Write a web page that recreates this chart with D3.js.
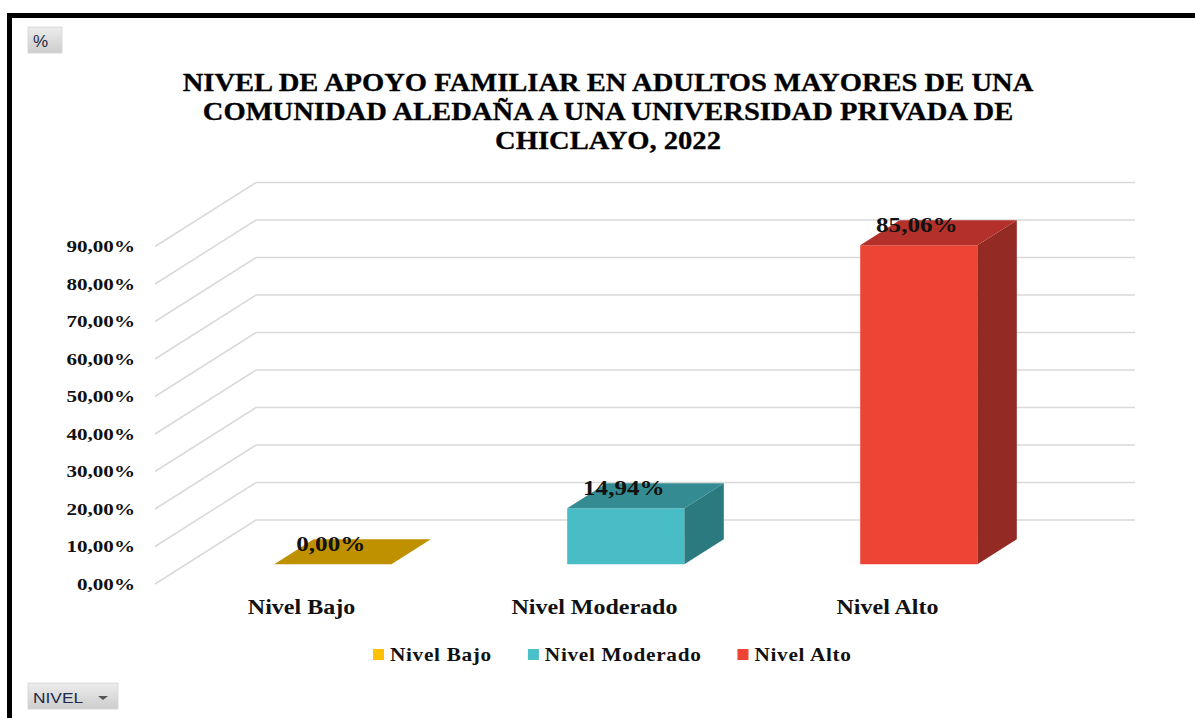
<!DOCTYPE html>
<html>
<head>
<meta charset="utf-8">
<script src="https://cdn.jsdelivr.net/npm/d3@7/dist/d3.min.js"></script>
<style>
  html, body { margin: 0; padding: 0; background: #ffffff; }
  svg { display: block; }
</style>
</head>
<body>
<svg id="chart" width="1195" height="718"></svg>
<script>
// ---- data ----
const categories = ["Nivel Bajo", "Nivel Moderado", "Nivel Alto"];
const values = [0.00, 14.94, 85.06];
const valueLabels = ["0,00%", "14,94%", "85,06%"];
const yTicks = [0, 10, 20, 30, 40, 50, 60, 70, 80, 90];
const yTickLabels = ["0,00%", "10,00%", "20,00%", "30,00%", "40,00%", "50,00%", "60,00%", "70,00%", "80,00%", "90,00%"];
const titleLines = ["NIVEL DE APOYO FAMILIAR EN ADULTOS MAYORES DE UNA", "COMUNIDAD ALEDAÑA A UNA UNIVERSIDAD PRIVADA DE", "CHICLAYO, 2022"];
const legendColors = ["#FFC000", "#4BC0C8", "#EE4433"];
const frontColors = ["#FFC000", "#49BDC6", "#EC4535"];
const topColors = ["#BF9000", "#358B92", "#B4302A"];
const sideColors = ["#8F6C00", "#2B7A7F", "#932A23"];

// ---- layout ----
const svg = d3.select("#chart");
const serif = "'Liberation Serif', 'Times New Roman', serif";
const sans = "'Liberation Sans', Arial, sans-serif";

function stretch(sel, k) {
  sel.each(function () {
    const w = this.getComputedTextLength();
    d3.select(this).attr("textLength", w * k).attr("lengthAdjust", "spacingAndGlyphs");
  });
}

// frame
svg.append("rect").attr("x", 0).attr("y", 0).attr("width", 1195).attr("height", 718).attr("fill", "#fff");
svg.append("rect").attr("x", 7).attr("y", 13).attr("width", 1188).attr("height", 5).attr("fill", "#000");
svg.append("rect").attr("x", 7).attr("y", 13).attr("width", 5).attr("height", 705).attr("fill", "#000");

// button gradients
const defs = svg.append("defs");
const grad = defs.append("linearGradient").attr("id", "btn").attr("x1", 0).attr("y1", 0).attr("x2", 0).attr("y2", 1);
grad.append("stop").attr("offset", "0%").attr("stop-color", "#ececec");
grad.append("stop").attr("offset", "100%").attr("stop-color", "#cdcdcd");

// "%" button
svg.append("rect").attr("x", 28).attr("y", 27).attr("width", 34).attr("height", 26)
  .attr("fill", "url(#btn)").attr("stroke", "#d4d4d4").attr("stroke-width", 0.8);
svg.append("text").attr("x", 33).attr("y", 46.5).attr("font-family", sans).attr("font-size", 17)
  .attr("fill", "#1E2A48").text("%");

// "NIVEL" button
svg.append("rect").attr("x", 28).attr("y", 683).attr("width", 90).attr("height", 26)
  .attr("fill", "url(#btn)").attr("stroke", "#d4d4d4").attr("stroke-width", 0.8);
const nivelT = svg.append("text").attr("x", 33).attr("y", 703).attr("font-family", sans).attr("font-size", 15.5)
  .attr("fill", "#1E2A48").text("NIVEL");
stretch(nivelT, 1.12);
svg.append("path").attr("d", "M98,696 L108,696 L103,700 Z").attr("fill", "#555");

// title
const title = svg.append("g");
title.selectAll("text").data(titleLines).join("text")
  .attr("x", 608).attr("y", (d, i) => 91 + i * 29)
  .attr("text-anchor", "middle").attr("font-family", serif).attr("font-weight", "bold")
  .attr("font-size", 25.5).attr("fill", "#000").attr("stroke", "#000").attr("stroke-width", 0.3)
  .text(d => d)
  .call(stretch, 1.12);

// 3D projection
const DX = 101, DY = 64;
const x = d3.scaleBand().domain(categories).range([155, 1034]).paddingInner(0).paddingOuter(0);
const y = d3.scaleLinear().domain([0, 90]).range([584, 246.5]);
const proj = (h, v, d) => [h + d * DX, y(v) - d * DY];
const line = d3.line();

// gridlines (side wall + back wall)
const [h0, h1] = x.range();
svg.append("g").selectAll("path").data(yTicks).join("path")
  .attr("d", v => line([proj(h0, v, 0), proj(h0, v, 1), proj(h1, v, 1)]))
  .attr("fill", "none").attr("stroke", "#D9D9D9").attr("stroke-width", 1.5);

// y-axis labels
svg.append("g").selectAll("text").data(yTicks).join("text")
  .attr("x", 135).attr("y", v => y(v)).attr("dy", "0.35em")
  .attr("text-anchor", "end").attr("font-family", serif).attr("font-weight", "bold")
  .attr("font-size", 17).attr("fill", "#111").text((v, i) => yTickLabels[i])
  .call(stretch, 1.24);

// bars
const BW = 0.4, D1 = 0.31, D2 = 0.70;
const bars = svg.append("g");
categories.forEach((c, i) => {
  const cx = x(c) + x.bandwidth() / 2;
  const a = cx - x.bandwidth() * BW / 2, b = cx + x.bandwidth() * BW / 2;
  const v = values[i];
  const g = bars.append("g");
  if (v > 0) {
    g.append("path").attr("d", line([proj(a, 0, D1), proj(b, 0, D1), proj(b, v, D1), proj(a, v, D1)]) + "Z")
      .attr("fill", frontColors[i]);
    g.append("path").attr("d", line([proj(b, 0, D1), proj(b, 0, D2), proj(b, v, D2), proj(b, v, D1)]) + "Z")
      .attr("fill", sideColors[i]);
  }
  g.append("path").attr("d", line([proj(a, v, D1), proj(b, v, D1), proj(b, v, D2), proj(a, v, D2)]) + "Z")
    .attr("fill", topColors[i]);
});

// data labels
svg.append("g").selectAll("text").data(categories).join("text")
  .attr("x", c => x(c) + x.bandwidth() / 2 + D1 * DX - 2)
  .attr("y", (c, i) => proj(0, values[i], (D1 + D2) / 2)[1] - 1)
  .attr("text-anchor", "middle").attr("font-family", serif).attr("font-weight", "bold")
  .attr("font-size", 22).attr("fill", "#111").text((c, i) => valueLabels[i])
  .call(stretch, 1.14);

// category labels
svg.append("g").selectAll("text").data(categories).join("text")
  .attr("x", c => x(c) + x.bandwidth() / 2).attr("y", 614)
  .attr("text-anchor", "middle").attr("font-family", serif).attr("font-weight", "bold")
  .attr("font-size", 20).attr("fill", "#111").text(c => c)
  .call(stretch, 1.2);

// legend
const legend = svg.append("g");
let lx = 373;
categories.forEach((c, i) => {
  legend.append("rect").attr("x", lx).attr("y", 649).attr("width", 11).attr("height", 11).attr("fill", legendColors[i]);
  const t = legend.append("text").attr("x", lx + 17).attr("y", 661)
    .attr("font-family", serif).attr("font-weight", "bold").attr("font-size", 19)
    .attr("letter-spacing", 0.6).attr("fill", "#111").text(c);
  stretch(t, 1.12);
  lx += 17 + +t.attr("textLength") + 36;
});
</script>
</body>
</html>
